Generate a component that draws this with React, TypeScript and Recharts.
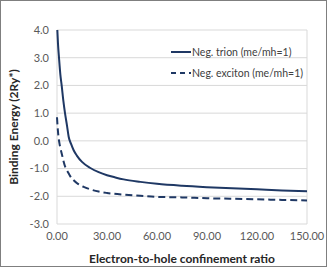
import React from "react";
import { LineChart, Line, XAxis, YAxis, CartesianGrid, Legend, Label } from "recharts";

const trionRatio = [0.2, 0.6, 1.2, 2, 2.8, 3.8, 4.8, 6, 7, 8.5, 10, 12, 15, 20, 25, 30, 35, 40, 50, 60, 75, 90, 105, 120, 135, 150];
const trionEnergy = [4.0, 3.5, 3.0, 2.4, 2.0, 1.45, 1.0, 0.55, 0.15, -0.12, -0.34, -0.54, -0.76, -0.98, -1.13, -1.24, -1.32, -1.39, -1.48, -1.55, -1.62, -1.67, -1.71, -1.75, -1.79, -1.82];

const excitonRatio = [0, 0.5, 1, 1.5, 2, 3, 4, 5, 6.5, 8, 10, 13, 16, 20, 25, 30, 40, 50, 60, 75, 90, 105, 120, 135, 150];
const excitonEnergy = [0.85, 0.4, 0.1, -0.1, -0.25, -0.5, -0.75, -0.95, -1.12, -1.28, -1.42, -1.57, -1.66, -1.75, -1.83, -1.88, -1.94, -1.98, -2.02, -2.04, -2.07, -2.09, -2.11, -2.13, -2.15];

const xTicks = [0, 30, 60, 90, 120, 150];
const xMinorTicks = [0, 10, 20, 30, 40, 50, 60, 70, 80, 90, 100, 110, 120, 130, 140, 150];
const yTicks = [-3, -2, -1, 0, 1, 2, 3, 4];

const seriesNames = ["Neg. trion (me/mh=1)", "Neg. exciton (me/mh=1)"];

const trionData = trionRatio.map((x, i) => ({ x, y: trionEnergy[i] }));
const excitonData = excitonRatio.map((x, i) => ({ x, y: excitonEnergy[i] }));

const LINE = "#1f3864";
const FONT = "Lato, 'Open Sans', sans-serif";

const LegendContent = () => (
  <div style={{ fontFamily: FONT, fontSize: 10.5, color: "#404040" }}>
    {seriesNames.map((name, i) => (
      <div key={name} style={{ display: "flex", alignItems: "center", height: 21.6 }}>
        <svg width={20} height={6} style={{ marginRight: 1 }}>
          <line x1={0} y1={3} x2={20} y2={3} stroke={LINE} strokeWidth={2} strokeDasharray={i === 1 ? "5 4" : undefined} />
        </svg>
        <span style={{ whiteSpace: "nowrap" }}>{name}</span>
      </div>
    ))}
  </div>
);

export default function App() {
  return (
    <div style={{ position: "absolute", left: 0, top: 0, width: 327, height: 267, border: "1px solid #7f7f7f", boxSizing: "border-box", background: "#fff", overflow: "hidden" }}>
      <div style={{ position: "absolute", left: -1, top: -1 }}>
        <LineChart width={327} height={267} margin={{ top: 30, right: 20, bottom: 0, left: 0 }}>
          <CartesianGrid xAxisId="minor" stroke="#d9d9d9" strokeWidth={1} />
          <XAxis xAxisId="minor" dataKey="x" type="number" domain={[0, 150]} ticks={xMinorTicks} hide />
          <XAxis
            dataKey="x"
            type="number"
            domain={[0, 150]}
            ticks={xTicks}
            tickFormatter={(v: number) => v.toFixed(2)}
            axisLine={false}
            tickLine={false}
            height={43}
            tick={{ fill: "#595959", fontSize: 11, fontFamily: FONT }}
            interval={0}
          >
            <Label value="Electron-to-hole confinement ratio" position="insideBottom" offset={4} style={{ fontWeight: 700, fontSize: 12, fill: "#262626", fontFamily: FONT }} />
          </XAxis>
          <YAxis
            type="number"
            domain={[-3, 4]}
            ticks={yTicks}
            tickFormatter={(v: number) => v.toFixed(1)}
            axisLine={false}
            tickLine={false}
            width={57}
            tick={{ fill: "#595959", fontSize: 11, fontFamily: FONT }}
            interval={0}
            allowDataOverflow
          >
            <Label value="Binding Energy (2Ry*)" angle={-90} position="insideLeft" offset={14} style={{ textAnchor: "middle", fontWeight: 700, fontSize: 12, fill: "#262626", fontFamily: FONT }} />
          </YAxis>
          <Legend content={<LegendContent />} layout="vertical" verticalAlign="middle" align="center" wrapperStyle={{ left: 171, top: 41, width: 150 }} />
          <Line data={trionData} dataKey="y" name={seriesNames[0]} type="monotone" stroke={LINE} strokeWidth={2} dot={false} isAnimationActive={false} />
          <Line data={excitonData} dataKey="y" name={seriesNames[1]} type="monotone" stroke={LINE} strokeWidth={2} strokeDasharray="7 4" dot={false} isAnimationActive={false} />
        </LineChart>
      </div>
    </div>
  );
}
